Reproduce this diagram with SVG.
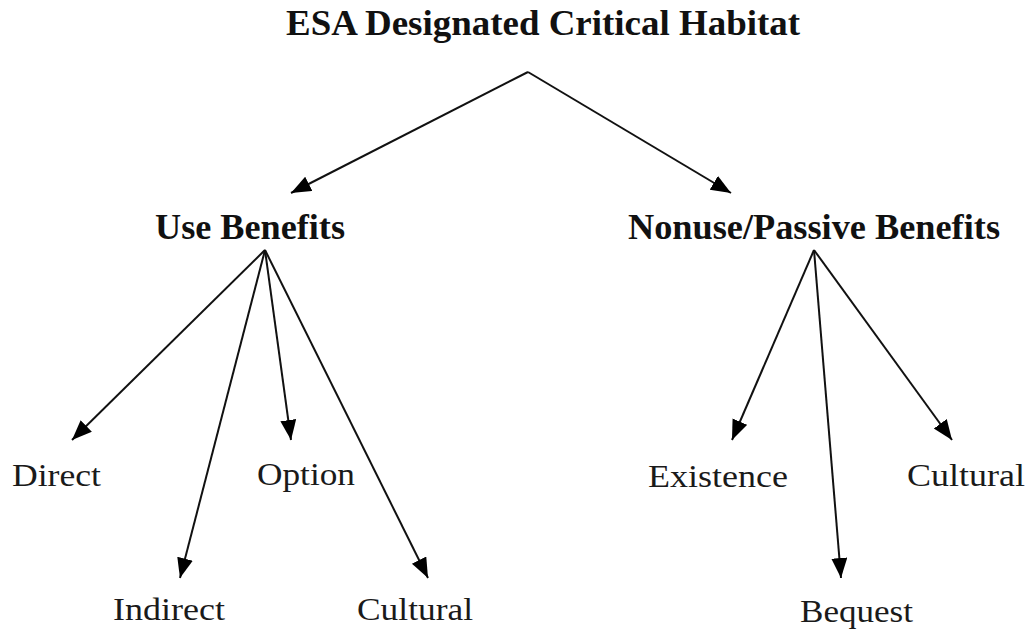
<svg xmlns="http://www.w3.org/2000/svg" width="1030" height="633" viewBox="0 0 1030 633">
<style>
  .bold { font-family: "Liberation Serif", "Times New Roman", serif; font-weight: bold; font-size: 35px; fill: #111; }
  .reg { font-family: "Liberation Serif", "Times New Roman", serif; font-size: 32px; fill: #1a1a1a; }
  .conn line { stroke: #111; stroke-width: 2; fill: none; marker-end: url(#arrow); }
</style>
<defs>
  <marker id="arrow" markerUnits="userSpaceOnUse" markerWidth="22" markerHeight="18" refX="20" refY="8" orient="auto">
    <path d="M0,0 L20,8 L0,16 z" fill="#000"/>
  </marker>
</defs>
<rect width="1030" height="633" fill="#fff"/>
<g class="conn" id="connectors">
  <line x1="528" y1="72" x2="291" y2="193"/>
  <line x1="528" y1="72" x2="731" y2="193"/>
  <line x1="265" y1="250" x2="72" y2="440"/>
  <line x1="265" y1="250" x2="180" y2="578"/>
  <line x1="265" y1="250" x2="291" y2="440"/>
  <line x1="265" y1="250" x2="428" y2="578"/>
  <line x1="814" y1="250" x2="732" y2="440"/>
  <line x1="814" y1="250" x2="841" y2="578"/>
  <line x1="814" y1="250" x2="952" y2="440"/>
</g>
<g id="node-root"><text class="bold" x="286" y="35" textLength="514" lengthAdjust="spacingAndGlyphs">ESA Designated Critical Habitat</text></g>
<g id="node-use"><text class="bold" x="155" y="239" textLength="190" lengthAdjust="spacingAndGlyphs">Use Benefits</text></g>
<g id="node-nonuse"><text class="bold" x="628" y="239" textLength="372" lengthAdjust="spacingAndGlyphs">Nonuse/Passive Benefits</text></g>
<g id="node-direct"><text class="reg" x="12" y="486" textLength="89" lengthAdjust="spacingAndGlyphs">Direct</text></g>
<g id="node-option"><text class="reg" x="257" y="485" textLength="98" lengthAdjust="spacingAndGlyphs">Option</text></g>
<g id="node-indirect"><text class="reg" x="113" y="620" textLength="112" lengthAdjust="spacingAndGlyphs">Indirect</text></g>
<g id="node-cultural-use"><text class="reg" x="357" y="620" textLength="116" lengthAdjust="spacingAndGlyphs">Cultural</text></g>
<g id="node-existence"><text class="reg" x="648" y="487" textLength="140" lengthAdjust="spacingAndGlyphs">Existence</text></g>
<g id="node-cultural-nonuse"><text class="reg" x="907" y="486" textLength="118" lengthAdjust="spacingAndGlyphs">Cultural</text></g>
<g id="node-bequest"><text class="reg" x="800" y="622" textLength="113" lengthAdjust="spacingAndGlyphs">Bequest</text></g>
</svg>
